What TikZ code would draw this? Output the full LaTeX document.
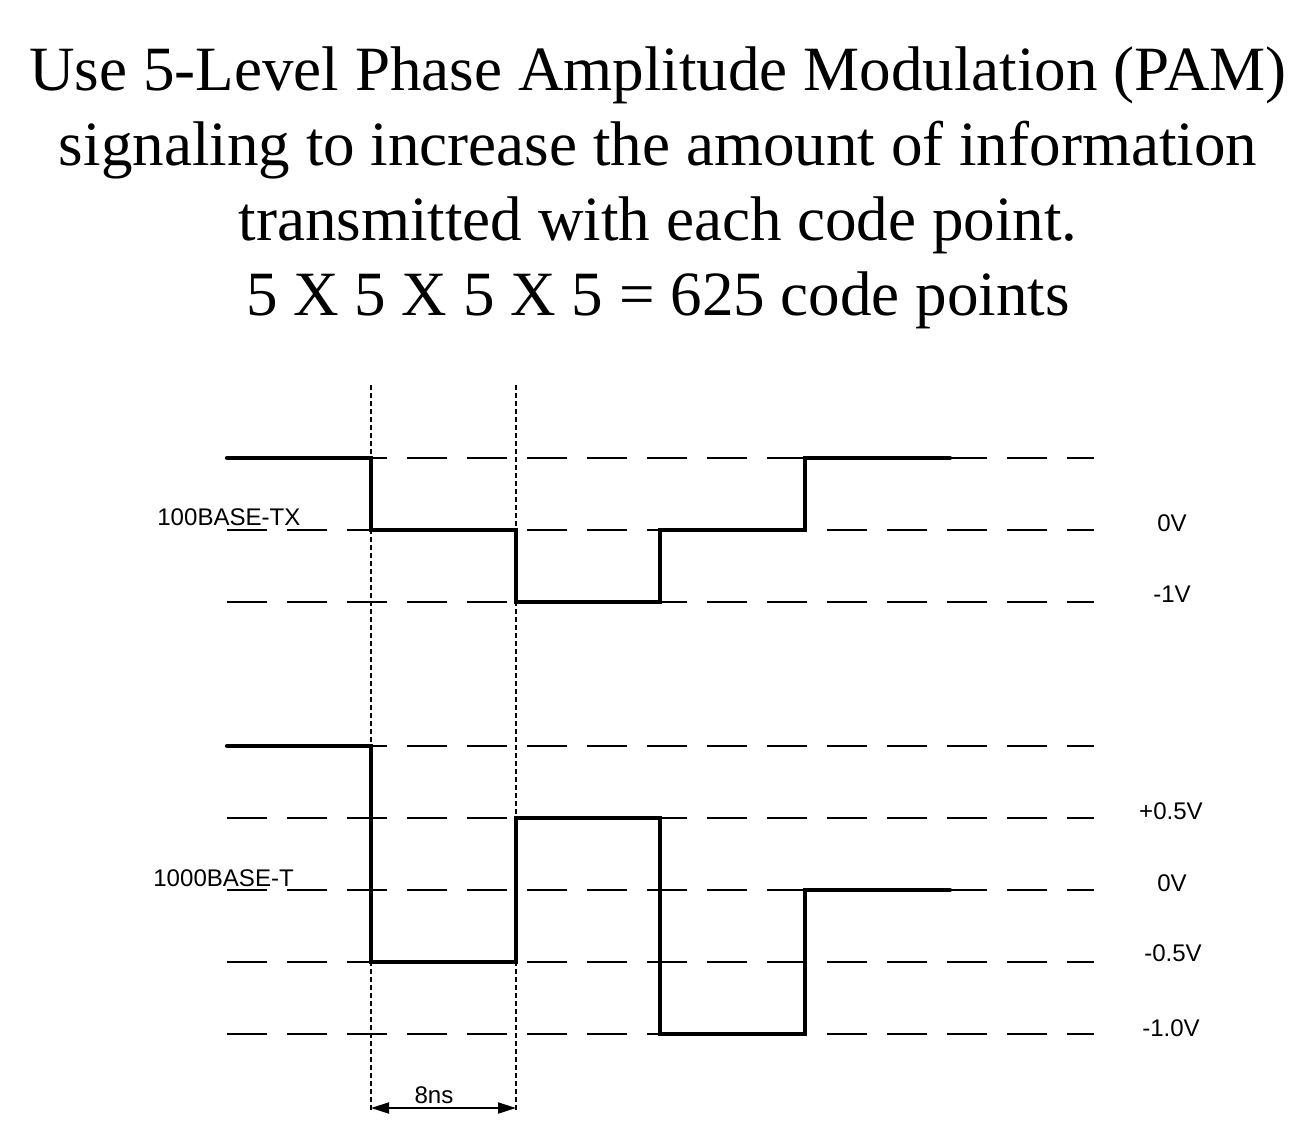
\documentclass[tikz,border=0pt]{standalone}
\usepackage{fontspec}
\setmainfont{Liberation Serif}
\setsansfont{Liberation Sans}
\usetikzlibrary{positioning, arrows.meta}

\begin{document}
\begin{tikzpicture}[
  x=0.02cm, y=-0.02cm,
  font=\sffamily\fontsize{13.7}{16}\selectfont,
  headline/.style={font=\rmfamily\fontsize{35.9}{42}\selectfont, anchor=base, inner sep=0pt},
  tag/.style={anchor=base west, inner sep=0pt},
  volt/.style={anchor=base, inner sep=0pt},
  level/.style={line width=1.1pt, dash pattern=on 0.8cm off 0.4cm},
  slot/.style={line width=1.1pt, dash pattern=on 0.1cm off 0.06cm},
  signal/.style={line width=2.4pt, line join=miter, line cap=round},
  span/.style={{Triangle[length=0.36cm, width=0.22cm]}-{Triangle[length=0.36cm, width=0.22cm]}, line width=1.1pt}
]
\useasboundingbox (0,0) rectangle (1311,1146);
% --- titolo ---
\node[headline] (t1) at (658,90) {Use 5-Level Phase Amplitude Modulation (PAM)};
\node[headline] (t2) at (658,165) {signaling to increase the amount of information};
\node[headline] (t3) at (658,240) {transmitted with each code point.};
\node[headline] (t4) at (658,315) {5 X 5 X 5 X 5 = 625 code points};
% --- livelli 100BASE-TX ---
\draw[level] (227,458)--(1094,458);
\draw[level] (227,530)--(1094,530);
\draw[level] (227,602)--(1094,602);
% --- livelli 1000BASE-T ---
\draw[level] (227,746)--(1094,746);
\draw[level] (227,818)--(1094,818);
\draw[level] (227,890)--(1094,890);
\draw[level] (227,962)--(1094,962);
\draw[level] (227,1034)--(1094,1034);
% --- intervallo 8ns ---
\coordinate (s1top) at (371,385); \coordinate (s1bot) at (371,1110);
\coordinate (s2top) at (516,385); \coordinate (s2bot) at (516,1110);
\draw[slot] (s1top)--(s1bot);
\draw[slot] (s2top)--(s2bot);
\coordinate (a1) at (371,1108); \coordinate (a2) at (516,1108);
\draw[span] (a1)--(a2);
\node[volt] (ns) at (434,1103) {8ns};
% --- segnali ---
\draw[signal] (227,458) -| (371,530) -| (516,602) -| (660,530) -| (805,458) -- (950,458);
\draw[signal] (227,746) -| (371,962) -| (516,818) -| (660,1034) -| (805,890) -- (950,890);
% --- etichette ---
\node[tag] (tx) at (157,525) {100BASE-TX};
\node[tag] (gt) at (153,886) {1000BASE-T};
\node[volt] (tx0) at (1172,531) {0V};
\node[volt] (tx1) at (1172,602) {-1V};
\node[volt] (gtp) at (1171,819) {+0.5V};
\node[volt] (gt0) at (1172,891) {0V};
\node[volt] (gtm) at (1173,961) {-0.5V};
\node[volt] (gtn) at (1171,1036) {-1.0V};
\end{tikzpicture}
\end{document}
